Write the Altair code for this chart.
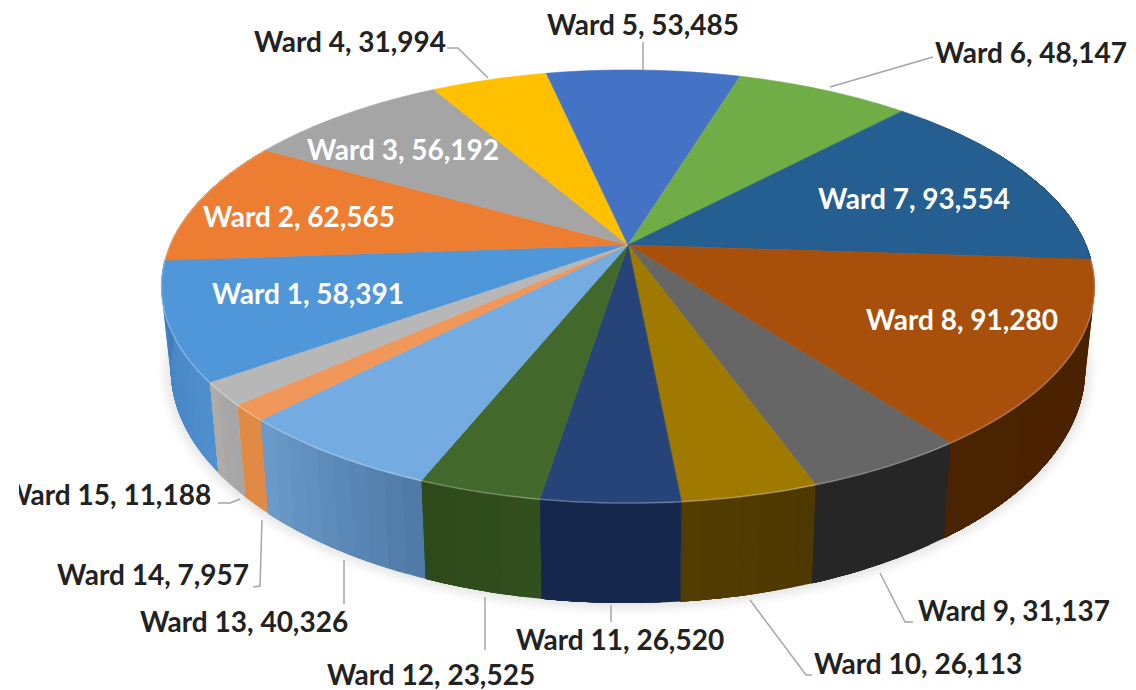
import math
import altair as alt

wards = ["Ward %d" % i for i in range(1, 16)]
values = [58391, 62565, 56192, 31994, 53485, 48147, 93554, 91280, 31137, 26113, 26520, 23525, 40326, 7957, 11188]
top_colors = ["#5097DA", "#ED7D31", "#A5A5A5", "#FFC000", "#4472C4", "#70AD47", "#255E91", "#A84F0C",
              "#666666", "#A07A00", "#264478", "#43682B", "#74ABE0", "#F1975A", "#B7B7B7"]
wall_start = ["#5090cf", "#a85820", "#777777", "#a08000", "#304f88", "#4f7a32", "#173a5a", "#4a2100",
              "#262626", "#4d3800", "#15274d", "#33501f", "#4f79a6", "#e08a45", "#a5a5a5"]
wall_end = ["#3f7cbc", "#a85820", "#777777", "#a08000", "#304f88", "#4f7a32", "#173a5a", "#4a2300",
            "#262626", "#523c00", "#15274d", "#2d4a1a", "#6a9ccb", "#e08a45", "#b0aca8"]
label_colors = ["white", "white", "white", "#222222", "#222222", "#222222", "white", "white",
                "#222222", "#222222", "#222222", "#222222", "#222222", "#222222", "#222222"]
# label centres, reference pixels
label_x = [308, 299, 403, 350, 643, 1031, 914, 962, 1014, 918, 620, 431, 244, 153, 107]
label_y = [294, 217, 150, 42, 25, 53, 199, 320, 611, 664, 640, 675, 622, 575, 495]
leaders = [
    [(447, 48), (458, 48), (488, 78)],
    [(643, 42), (643, 70)],
    [(933, 57), (830, 87)],
    [(880, 573), (905, 622), (913, 622)],
    [(750, 600), (806, 675), (812, 675)],
    [(611, 605), (611, 622)],
    [(485, 597), (485, 650)],
    [(344, 560), (344, 604)],
    [(262, 520), (260, 586), (253, 587)],
    [(218, 503), (230, 503), (240, 499)],
]

# layout of the tilted disc, in reference pixels
MARGIN = 8
CX, CY = 628, 245
A, B, K = 458, 208.6, 0.1917
START = 234.1
WALL_D, WALL_SY, WALL_SX = 78.6, 1.083, 0.98
FONT = "Lato"
FONT_SIZE = 28


def disc(deg):
    t = math.radians(deg)
    u, v = math.sin(t), -math.cos(t)
    w = 1 - K * v
    return CX + A * u / w, CY + B * v / w


def base(deg):
    x, y = disc(deg)
    return CX + WALL_SX * (x - CX), CY + WALL_D + WALL_SY * (y - CY)


def page(p):
    return [p[0] - MARGIN, p[1] - MARGIN]


def mix(c1, c2, f):
    a = [int(c1[i:i + 2], 16) for i in (1, 3, 5)]
    b = [int(c2[i:i + 2], 16) for i in (1, 3, 5)]
    return "#%02x%02x%02x" % tuple(round(x + (y - x) * f) for x, y in zip(a, b))


def poly(points, fill, op=1.0):
    ring = [page(p) for p in points]
    ring.append(ring[0])
    return {"type": "Feature", "geometry": {"type": "Polygon", "coordinates": [ring]},
            "properties": {"fill": fill, "op": op}}


def line(points, stroke, op=1.0):
    return {"type": "Feature", "geometry": {"type": "LineString", "coordinates": [page(p) for p in points]},
            "properties": {"stroke": stroke, "op": op}}


def arc_points(fn, a0, a1, step=1.0):
    n = max(2, int((a1 - a0) / step))
    return [fn(a0 + (a1 - a0) * j / n) for j in range(n + 1)]


total = sum(values)
edges = [START]
for val in values:
    edges.append(edges[-1] + val / total * 360)

under = []
# soft shadow round the base
for grow in (1, 3, 5, 7, 9, 12):
    pts = []
    for d in range(60, 301, 3):
        x, y = base(d)
        pts.append((CX + (x - CX) * (1 + grow / 470), CY + 60 + (y - CY - 60) * (1 + grow / 300)))
    under.append(poly(pts, "#8a8f98", 0.035))

# side wall: each strip runs on to the slice's end, later strips paint over it
walls = []
for i in range(15):
    a0, a1 = edges[i], edges[i + 1]
    n = max(1, int((a1 - a0) / 2))
    for j in range(n):
        d0 = a0 + (a1 - a0) * j / n
        if 70 < ((d0 + a1) / 2) % 360 < 300:
            walls.append(poly(arc_points(disc, d0, a1) + arc_points(base, d0, a1)[::-1],
                              mix(wall_start[i], wall_end[i], (j + 0.5) / n)))

# top faces
tops = []
rim = []
for i in range(15):
    a0, a1 = edges[i], edges[i + 1]
    seg = arc_points(disc, a0, a1)
    tops.append(poly([(CX, CY)] + seg, top_colors[i]))
    if 90 < ((a0 + a1) / 2) % 360 < 290:
        rim.append(line(seg, "#ffffff", 0.28))
for pts in leaders:
    rim.append(line(pts, "#a6a6a6", 1.0))

cover = [poly([(0, 478), (19, 478), (19, 512), (0, 512)], "#ffffff")]

proj = dict(type="identity", scale=1, translate=[0, 0])


def filled(rows, width):
    return alt.Chart(alt.Data(values=rows)).mark_geoshape(strokeWidth=width).encode(
        fill=alt.Fill("properties.fill:N", scale=None),
        stroke=alt.Stroke("properties.fill:N", scale=None),
        opacity=alt.Opacity("properties.op:Q", scale=None),
    ).project(**proj)


lines = alt.Chart(alt.Data(values=rim)).mark_geoshape(filled=False, strokeWidth=1.5).encode(
    stroke=alt.Stroke("properties.stroke:N", scale=None),
    opacity=alt.Opacity("properties.op:Q", scale=None),
).project(**proj)

label_rows = [
    {"text": "%s, %s" % (w, format(v, ",")), "lon": x - MARGIN, "lat": y - MARGIN, "color": c}
    for w, v, x, y, c in zip(wards, values, label_x, label_y, label_colors)
]
labels = alt.Chart(alt.Data(values=label_rows)).mark_text(
    font=FONT, fontSize=FONT_SIZE, fontWeight="bold", align="center", baseline="middle", dy=2
).encode(
    longitude="lon:Q", latitude="lat:Q", text="text:N",
    color=alt.Color("color:N", scale=None),
).project(**proj)

chart = alt.layer(filled(under, 0), filled(walls, 0), filled(tops, 0.6), lines, labels,
                  filled(cover, 0)).properties(
    width=1120, height=682, padding=0,
    autosize=alt.AutoSizeParams(type="none"),
).configure_view(stroke=None)

chart.save("out.html", embed_options={"renderer": "svg", "actions": False})
